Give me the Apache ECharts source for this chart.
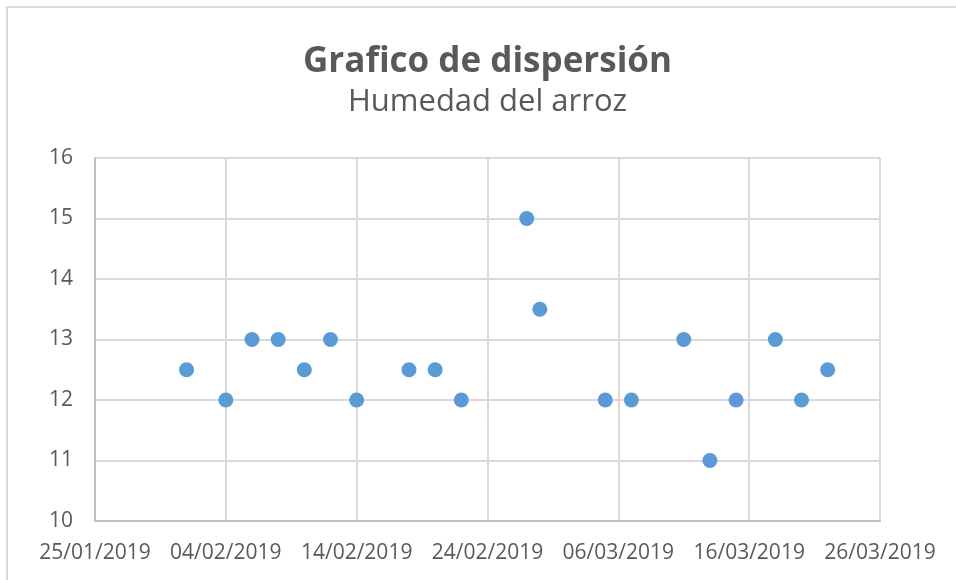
<!DOCTYPE html>
<html>
<head>
<meta charset="utf-8">
<title>Grafico de dispersión</title>
<script src="https://cdn.jsdelivr.net/npm/echarts@6/dist/echarts.min.js"></script>
<style>
  html, body { margin: 0; padding: 0; background: #ffffff; }
  #chart { width: 956px; height: 580px; }
</style>
</head>
<body>
<div id="chart"></div>
<script>
// Sampling dates (dd/mm/yyyy) and measured rice moisture (%)
const fechas = [
  '01/02/2019', '04/02/2019', '06/02/2019', '08/02/2019', '10/02/2019',
  '12/02/2019', '14/02/2019', '18/02/2019', '20/02/2019', '22/02/2019',
  '27/02/2019', '28/02/2019', '05/03/2019', '07/03/2019', '11/03/2019',
  '13/03/2019', '15/03/2019', '18/03/2019', '20/03/2019', '22/03/2019'
];
const humedad = [
  12.5, 12, 13, 13, 12.5,
  13, 12, 12.5, 12.5, 12,
  15, 13.5, 12, 12, 13,
  11, 12, 13, 12, 12.5
];

// Horizontal axis range: first and last date tick, step in days
const fechaInicio = '25/01/2019';
const fechaFin = '26/03/2019';
const pasoDias = 10;

const DAY = 86400000;
function parseFecha(s) {
  const [d, m, y] = s.split('/').map(Number);
  return Date.UTC(y, m - 1, d);
}
const t0 = parseFecha(fechaInicio);
// day offset from the first tick, so ticks fall on multiples of the step
function diasDesdeInicio(s) { return Math.round((parseFecha(s) - t0) / DAY); }
function fmtFecha(dias) {
  const dt = new Date(t0 + dias * DAY);
  const dd = String(dt.getUTCDate()).padStart(2, '0');
  const mm = String(dt.getUTCMonth() + 1).padStart(2, '0');
  return dd + '/' + mm + '/' + dt.getUTCFullYear();
}

const puntos = fechas.map((f, i) => [diasDesdeInicio(f), humedad[i]]);

const FONT = '"Open Sans", "Noto Sans", sans-serif';
const GRIS = '#595959';

// plot area box
const G = { left: 95, right: 76, top: 158, bottom: 59 };
const centroX = G.left + (956 - G.left - G.right) / 2;

const chart = echarts.init(document.getElementById('chart'), null, { renderer: 'canvas' });
chart.setOption({
  animation: false,
  backgroundColor: '#ffffff',
  graphic: [{
    type: 'rect',
    shape: { x: 7, y: 7, width: 1200, height: 1200 },
    style: { fill: 'none', stroke: '#d9d9d9', lineWidth: 2 },
    silent: true
  }, {
    // title and subtitle, centred over the plot area
    type: 'text',
    x: centroX, y: 45,
    style: {
      text: 'Grafico de dispersión',
      font: 'bold 35px ' + FONT,
      fill: GRIS, align: 'center', verticalAlign: 'top'
    }
  }, {
    type: 'text',
    x: centroX, y: 87,
    style: {
      text: 'Humedad del arroz',
      font: 'normal 31px ' + FONT,
      fill: GRIS, align: 'center', verticalAlign: 'top'
    }
  }],
  grid: { left: G.left, right: G.right, top: G.top, bottom: G.bottom, containLabel: false },
  xAxis: {
    type: 'value',
    min: 0,
    max: diasDesdeInicio(fechaFin),
    interval: pasoDias,
    axisLine: { show: true, lineStyle: { color: '#bfbfbf', width: 2 } },
    axisTick: { show: false },
    splitLine: { show: true, lineStyle: { color: '#d9d9d9', width: 2 } },
    axisLabel: {
      margin: 22,
      fontFamily: FONT, fontSize: 21, color: GRIS,
      formatter: v => fmtFecha(v)
    }
  },
  yAxis: {
    type: 'value',
    min: 10,
    max: 16,
    interval: 1,
    axisLine: { show: true, lineStyle: { color: '#bfbfbf', width: 2 } },
    axisTick: { show: false },
    splitLine: { show: true, lineStyle: { color: '#d9d9d9', width: 2 } },
    axisLabel: { margin: 22, fontFamily: FONT, fontSize: 21, color: GRIS }
  },
  series: [{
    name: 'Humedad',
    type: 'scatter',
    data: puntos,
    symbol: 'circle',
    symbolSize: 15,
    itemStyle: { color: '#5b9bd5', opacity: 1 }
  }]
});
</script>
</body>
</html>
